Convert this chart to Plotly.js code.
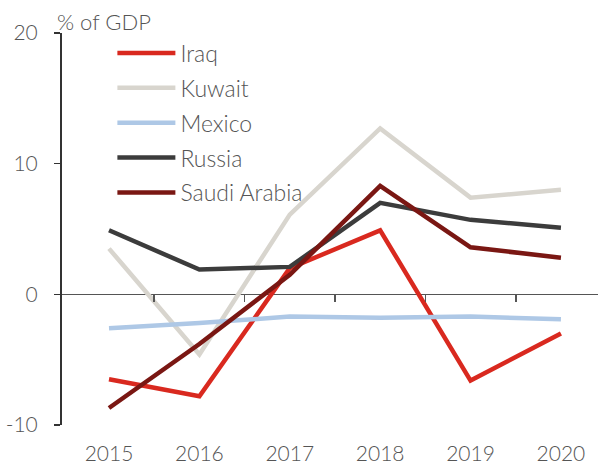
<!DOCTYPE html>
<html>
<head>
<meta charset="utf-8">
<script src="https://cdn.plot.ly/plotly-3.0.1.min.js"></script>
<style>html,body{margin:0;padding:0;background:#fff;}#chart{width:598px;height:465px;}</style>
</head>
<body>
<div id="chart"></div>
<script>
const years = ['2015', '2016', '2017', '2018', '2019', '2020'];
const iraq = [-6.5, -7.8, 2.0, 4.9, -6.6, -3.0];
const kuwait = [3.5, -4.6, 6.1, 12.7, 7.4, 8.0];
const mexico = [-2.6, -2.2, -1.7, -1.8, -1.7, -1.9];
const russia = [4.9, 1.9, 2.1, 7.0, 5.7, 5.1];
const saudi = [-8.7, -3.8, 1.5, 8.3, 3.6, 2.8];
const seriesNames = ['Iraq', 'Kuwait', 'Mexico', 'Russia', 'Saudi Arabia'];
const seriesColors = ['#d9291f', '#d8d5ce', '#aec8e6', '#3c3c3c', '#7a1713'];
const seriesValues = [iraq, kuwait, mexico, russia, saudi];
const yTickVals = [-10, 0, 10, 20];
const yTickText = ['-10', '0', '10', '20'];
const tickBoundaries = [0.5, 1.5, 2.5, 3.5, 4.5];

const FONT = 'Lato, "Open Sans", sans-serif';
const TXT = '#555555';

const traces = seriesValues.map((vals, i) => ({
  type: 'scatter', mode: 'lines',
  x: years, y: vals, name: seriesNames[i],
  legendgroup: 'g' + i,
  line: {color: seriesColors[i], width: 4.5},
  hoverinfo: 'skip'
}));
// helper trace for the tick axis drawn on the zero line
traces.push({type: 'scatter', mode: 'lines', x: [0, 5], y: [null, null], xaxis: 'x2', showlegend: false, hoverinfo: 'skip'});

const layout = {
  width: 598, height: 465,
  margin: {l: 62, r: 0, t: 33, b: 40},
  paper_bgcolor: '#fff', plot_bgcolor: '#fff',
  font: {family: FONT, color: TXT, size: 22, weight: 300},
  showlegend: true,
  legend: {
    x: 0.094, y: 1.004, xanchor: 'left', yanchor: 'top',
    bgcolor: 'rgba(0,0,0,0)', font: {family: FONT, size: 23, color: TXT, weight: 300},
    itemwidth: 58, tracegroupgap: 2, traceorder: 'grouped'
  },
  xaxis: {
    type: 'category', range: [-0.52, 5.41],
    showgrid: false, zeroline: false, showline: false,
    ticks: 'outside', ticklen: 10, tickcolor: 'rgba(0,0,0,0)',
    tickfont: {family: FONT, size: 21, color: TXT, weight: 300}
  },
  xaxis2: {
    overlaying: 'x', anchor: 'free', position: 131/392,
    range: [-0.52, 5.41], showgrid: false, zeroline: false, showline: false,
    tickmode: 'array', tickvals: tickBoundaries, showticklabels: false,
    ticks: 'outside', ticklen: 7, tickwidth: 1.5, tickcolor: '#555'
  },
  yaxis: {
    range: [-10, 20], tickmode: 'array', tickvals: yTickVals, ticktext: yTickText,
    showgrid: false, zeroline: true, zerolinecolor: '#555', zerolinewidth: 1.5,
    showline: true, linecolor: '#333', linewidth: 2,
    ticks: 'outside', ticklen: 6, tickwidth: 1.5, tickcolor: '#333',
    ticklabelstandoff: 12,
    tickfont: {family: FONT, size: 21, color: TXT, weight: 300}
  },
  annotations: [{
    text: '% of GDP', xref: 'paper', yref: 'paper', x: 0, y: 1,
    xanchor: 'left', yanchor: 'bottom', xshift: -7, yshift: -4, showarrow: false,
    font: {family: FONT, size: 22, color: TXT, weight: 300}
  }]
};

Plotly.newPlot('chart', traces, layout, {displayModeBar: false, staticPlot: true});
</script>
</body>
</html>
